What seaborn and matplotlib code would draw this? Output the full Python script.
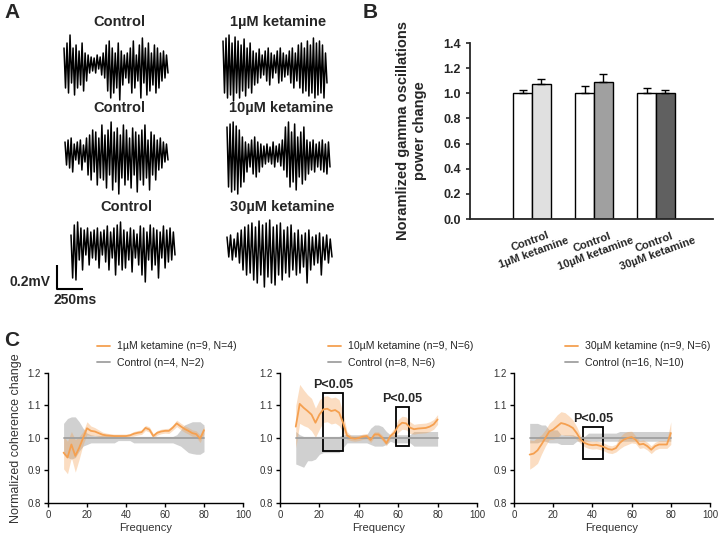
import numpy as np
import pandas as pd
import seaborn as sns
import matplotlib.pyplot as plt
from matplotlib.lines import Line2D
from matplotlib.patches import Rectangle

sns.set_theme(style="ticks")
plt.rcParams['font.family'] = ['Liberation Sans', 'DejaVu Sans']

# ---------------- Panel A: example traces (alternating peak/trough, 0.2 mV = 24 units)
trace_ctl_1 = [15, -25, 20, -30, 28, -20, 15, -32, 18, -25, 12, -22, 20, -28, 10, -18, 8, -10, 6, -8,
               5, -10, 8, -6, 6, -12, 10, -15, 18, -28, 22, -35, 15, -30, 10, -25, 20, -37, 12, -22,
               8, -15, 10, -20, 15, -30, 22, -25, 8, -18, 18, -35, 25, -20, 15, -32, 20, -28, 10, -22,
               18, -30, 15, -25, 10, -18, 12, -15, 8, -10]
trace_ket_1 = [22, -30, 25, -35, 28, -32, 20, -38, 26, -30, 22, -35, 18, -28, 24, -33, 15, -25, 20, -30,
               12, -22, 10, -20, 14, -15, 8, -12, 12, -18, 15, -22, 10, -15, 8, -10, 12, -20, 15, -18,
               10, -14, 8, -12, 12, -20, 15, -25, 10, -18, 18, -25, 20, -30, 15, -28, 22, -33, 18, -30,
               25, -35, 20, -32, 22, -30, 18, -35, 10, -20]
trace_ctl_10 = [8, -15, 10, -18, 12, -22, 6, -10, 8, -14, 10, -20, 5, -12, 12, -25, 15, -30, 20, -22,
                18, -35, 12, -28, 25, -30, 15, -38, 20, -25, 28, -40, 18, -32, 22, -44, 15, -28, 25, -35,
                20, -30, 12, -38, 22, -25, 18, -42, 15, -30, 20, -35, 25, -28, 10, -40, 18, -25, 15, -30,
                10, -20, 12, -18, 8, -12, 6, -10]
trace_ket_10 = [25, -35, 28, -40, 30, -38, 26, -42, 22, -35, 15, -30, 10, -20, 8, -15, 12, -22, 15, -25,
                10, -20, 8, -15, 6, -12, 8, -10, 5, -12, 10, -15, 6, -10, 8, -14, 12, -18, 25, -25,
                30, -35, 20, -30, 28, -38, 15, -25, 20, -32, 25, -28, 12, -22, 10, -18, 12, -20, 8, -15,
                10, -18, 12, -20, 8, -22, 10, -15]
trace_ctl_30 = [5, -38, 15, -40, 18, -20, 12, -30, 10, -15, 12, -25, 8, -18, 10, -20, 12, -28, 8, -15,
                10, -22, 14, -30, 8, -18, 12, -35, 15, -25, 18, -30, 10, -28, 8, -20, 12, -32, 10, -18,
                6, -25, 14, -35, 12, -42, 8, -20, 15, -30, 12, -25, 10, -38, 8, -18, 14, -28, 10, -22,
                12, -20, 8, -15]
trace_ket_30 = [8, -12, 10, -15, 6, -12, 12, -18, 15, -25, 18, -30, 20, -28, 22, -35, 18, -38, 24, -30,
                20, -42, 22, -32, 25, -38, 18, -40, 20, -30, 22, -35, 15, -28, 18, -32, 20, -25, 12, -30,
                15, -28, 10, -22, 12, -38, 15, -25, 8, -20, 10, -18, 12, -30, 8, -15, 10, -18, 6, -12]

trace_titles = ["Control", "1µM ketamine", "Control", "10µM ketamine", "Control", "30µM ketamine"]

# ---------------- Panel B: gamma power
bar_groups = ["Control\n1µM ketamine", "Control\n10µM ketamine", "Control\n30µM ketamine"]
power_ctl = [1.0, 1.0, 1.0]
power_ket = [1.07, 1.09, 1.0]
sem_ctl = [0.03, 0.06, 0.04]
sem_ket = [0.04, 0.06, 0.025]

# ---------------- Panel C: coherence
freq = list(range(8, 81, 2))
ctl_line = [1.0, 1.0, 1.0, 1.0, 1.0, 1.0, 1.0, 1.0, 1.0, 1.0, 1.0, 1.0, 1.0, 1.0, 1.0, 1.0, 1.0, 1.0, 1.0,
            1.0, 1.0, 1.0, 1.0, 1.0, 1.0, 1.0, 1.0, 1.0, 1.0, 1.0, 1.0, 1.0, 1.0, 1.0, 1.0, 1.0, 1.0]

c1_ket = [0.955, 0.94, 0.98, 0.945, 0.97, 1.0, 1.03, 1.022, 1.02, 1.015, 1.01, 1.008, 1.007, 1.006, 1.006,
          1.006, 1.006, 1.008, 1.013, 1.016, 1.018, 1.031, 1.026, 1.006, 1.016, 1.02, 1.022, 1.022, 1.032,
          1.045, 1.036, 1.028, 1.022, 1.015, 1.012, 0.998, 1.024]
c1_ket_sem = [0.05, 0.05, 0.04, 0.05, 0.035, 0.02, 0.02, 0.015, 0.012, 0.01, 0.008, 0.007, 0.006, 0.006,
              0.006, 0.006, 0.006, 0.006, 0.007, 0.007, 0.007, 0.008, 0.008, 0.007, 0.007, 0.007, 0.007,
              0.008, 0.008, 0.01, 0.01, 0.01, 0.01, 0.01, 0.01, 0.012, 0.012]
c1_ctl_lo = [0.95, 0.94, 0.935, 0.94, 0.96, 0.975, 0.98, 0.985, 0.985, 0.985, 0.985, 0.985, 0.985, 0.985,
             0.992, 0.992, 0.992, 0.992, 0.985, 0.985, 0.985, 0.985, 0.985, 0.985, 0.985, 0.985, 0.985,
             0.985, 0.985, 0.98, 0.975, 0.965, 0.955, 0.952, 0.95, 0.95, 0.958]
c1_ctl_hi = [1.045, 1.06, 1.065, 1.065, 1.05, 1.03, 1.015, 1.01, 1.008, 1.008, 1.008, 1.008, 1.008, 1.008,
             1.004, 1.004, 1.004, 1.004, 1.005, 1.005, 1.005, 1.005, 1.005, 1.005, 1.005, 1.005, 1.005,
             1.005, 1.005, 1.01, 1.025, 1.04, 1.045, 1.05, 1.05, 1.05, 1.04]

c2_ket = [1.035, 1.105, 1.093, 1.083, 1.072, 1.047, 1.072, 1.088, 1.09, 1.083, 1.086, 1.078, 1.047, 1.008,
          1.0, 0.998, 1.0, 1.004, 1.006, 0.994, 1.011, 1.011, 1.0, 0.984, 1.006, 1.016, 1.037, 1.047,
          1.045, 1.032, 1.027, 1.029, 1.03, 1.031, 1.035, 1.042, 1.057]
c2_ket_sem = [0.065, 0.06, 0.055, 0.05, 0.05, 0.045, 0.045, 0.04, 0.04, 0.04, 0.04, 0.04, 0.03, 0.012,
              0.008, 0.008, 0.008, 0.008, 0.008, 0.008, 0.008, 0.008, 0.008, 0.008, 0.008, 0.015, 0.02,
              0.02, 0.02, 0.018, 0.015, 0.015, 0.015, 0.015, 0.015, 0.015, 0.015]
c2_ctl_lo = [0.92, 0.915, 0.91, 0.93, 0.93, 0.935, 0.95, 0.955, 0.955, 0.955, 0.955, 0.955, 0.97, 0.985,
             0.985, 0.985, 0.985, 0.985, 0.985, 0.98, 0.975, 0.975, 0.975, 0.98, 0.99, 0.985, 0.985,
             0.985, 0.985, 0.985, 0.975, 0.975, 0.975, 0.975, 0.975, 0.975, 0.975]
c2_ctl_hi = [1.02, 1.01, 1.005, 1.005, 1.005, 1.005, 1.005, 1.005, 1.005, 1.005, 1.005, 1.005, 1.01, 1.01,
             1.01, 1.01, 1.01, 1.01, 1.01, 1.03, 1.04, 1.04, 1.035, 1.02, 1.01, 1.01, 1.01, 1.01, 1.01,
             1.01, 1.02, 1.02, 1.02, 1.02, 1.02, 1.02, 1.02]

c3_ket = [0.949, 0.952, 0.962, 0.98, 1.0, 1.02, 1.026, 1.036, 1.046, 1.043, 1.038, 1.031, 1.015, 0.995,
          0.985, 0.98, 0.978, 0.979, 0.976, 0.972, 0.966, 0.964, 0.969, 0.985, 0.995, 1.0, 1.003, 0.995,
          0.98, 0.982, 0.975, 0.964, 0.975, 0.98, 0.98, 0.98, 1.015]
c3_ket_sem = [0.045, 0.04, 0.04, 0.03, 0.025, 0.025, 0.03, 0.035, 0.035, 0.035, 0.03, 0.025, 0.02, 0.012,
              0.012, 0.012, 0.012, 0.012, 0.012, 0.012, 0.012, 0.012, 0.012, 0.018, 0.02, 0.02, 0.018,
              0.012, 0.012, 0.012, 0.012, 0.012, 0.012, 0.012, 0.012, 0.012, 0.035]
c3_ctl_lo = [0.985, 0.985, 0.985, 0.99, 0.99, 0.985, 0.985, 0.985, 0.98, 0.98, 0.98, 0.98, 0.99, 0.99,
             0.99, 0.99, 0.99, 0.99, 0.99, 0.99, 0.99, 0.99, 0.99, 0.99, 0.99, 0.99, 0.99, 0.99, 0.99,
             0.99, 0.99, 0.99, 0.99, 0.99, 0.99, 0.99, 0.99]
c3_ctl_hi = [1.045, 1.045, 1.045, 1.04, 1.04, 1.025, 1.025, 1.025, 1.01, 1.01, 1.01, 1.01, 1.005, 1.005,
             1.005, 1.015, 1.015, 1.015, 1.015, 1.015, 1.015, 1.015, 1.015, 1.02, 1.02, 1.02, 1.02, 1.02,
             1.02, 1.02, 1.02, 1.02, 1.02, 1.02, 1.02, 1.02, 1.02]

c_ket_labels = ["1µM ketamine (n=9, N=4)", "10µM ketamine (n=9, N=6)", "30µM ketamine (n=9, N=6)"]
c_ctl_labels = ["Control (n=4, N=2)", "Control (n=8, N=6)", "Control (n=16, N=10)"]

ORANGE = "#f5a050"
GREY_LINE = "#a0a0a0"
GREY_BAND = "#c8c8c8"

fig = plt.figure(figsize=(7.21, 5.35), dpi=100)

# ---- panel A: one pixel-space axes for the traces
axA = fig.add_axes([0, 0, 1, 1])
axA.set_xlim(0, 721)
axA.set_ylim(535, 0)
axA.axis("off")

traces = [trace_ctl_1, trace_ket_1, trace_ctl_10, trace_ket_10, trace_ctl_30, trace_ket_30]
# (x start, x end, baseline, title y)
spots = [(64, 168, 63, 22), (223, 327, 63, 22),
         (65, 168, 150, 108), (227, 330, 152, 108),
         (71, 175, 240, 207), (227, 332, 245, 207)]
for tr, (x0, x1, base, ty), title in zip(traces, spots, trace_titles):
    xs = np.linspace(x0, x1, len(tr))
    ys = base - np.array(tr)
    sns.lineplot(x=xs, y=ys, ax=axA, color="black", lw=1.1, estimator=None, sort=False)
    axA.text((x0 + x1) / 2 + 3, ty, title, ha="center", va="center", fontsize=10.5, fontweight="bold")

# scale bar
axA.plot([57, 57, 83], [265, 289, 289], color="black", lw=1.5, solid_capstyle="butt")
axA.text(50, 282, "0.2mV", ha="right", va="center", fontsize=10, fontweight="bold")
axA.text(75, 300, "250ms", ha="center", va="center", fontsize=10, fontweight="bold")
axA.text(4, 12, "A", ha="left", va="center", fontsize=15, fontweight="bold")
axA.text(363, 12, "B", ha="left", va="center", fontsize=15, fontweight="bold")
axA.text(4, 340, "C", ha="left", va="center", fontsize=15, fontweight="bold")

# ---- panel B
df_b = pd.DataFrame({
    "group": bar_groups * 2,
    "cond": ["Control"] * 3 + ["Ketamine"] * 3,
    "power": power_ctl + power_ket,
})
axB = fig.add_axes([470 / 721, 1 - 219 / 535, 243 / 721, 176 / 535])
sns.barplot(data=df_b, x="group", y="power", hue="cond", width=0.6, gap=0, ax=axB,
            errorbar=None, legend=False, palette=["white", "white"],
            edgecolor="black", linewidth=1)
bar_fill = ["white", "#e0e0e0", "white", "#a0a0a0", "white", "#606060"]
bar_err = [sem_ctl[0], sem_ket[0], sem_ctl[1], sem_ket[1], sem_ctl[2], sem_ket[2]]
bars = sorted(axB.patches, key=lambda p: p.get_x())
for p, col, e in zip(bars, bar_fill, bar_err):
    p.set_facecolor(col)
    axB.errorbar(p.get_x() + p.get_width() / 2, p.get_height(), yerr=[[0], [e]],
                 color="black", lw=1, capsize=3, capthick=1, zorder=1)
axB.set_xlim(-1.0, 2.92)
axB.set_ylim(0, 1.4)
axB.set_yticks(np.arange(0, 1.41, 0.2))
axB.set_yticklabels([f"{v:.1f}" for v in np.arange(0, 1.41, 0.2)], fontsize=9, fontweight="bold")
axB.set_xticks([0, 1, 2])
axB.set_xticklabels(bar_groups, fontsize=8, fontweight="bold", rotation=20, ha="center",
                    multialignment="center")
axB.tick_params(axis="x", length=0, pad=4)
axB.tick_params(axis="y", length=3, width=1.2)
axB.set_xlabel("")
axB.set_ylabel("Noramlized gamma oscillations\npower change", fontsize=10.5, fontweight="bold",
               labelpad=12)
for s in ["left", "bottom"]:
    axB.spines[s].set_linewidth(1.3)
sns.despine(ax=axB)

# ---- panel C
c_lefts = [48, 280, 514]
c_widths = [195, 197, 196]
c_data = [(c1_ket, c1_ket_sem, c1_ctl_lo, c1_ctl_hi),
          (c2_ket, c2_ket_sem, c2_ctl_lo, c2_ctl_hi),
          (c3_ket, c3_ket_sem, c3_ctl_lo, c3_ctl_hi)]
legend_x = [97, 328, 565]
p_boxes = [[], [(21.6, 32, 0.96, 1.14), (58.8, 65.6, 0.975, 1.095)], [(35.1, 45.2, 0.935, 1.035)]]

for i in range(3):
    ax = fig.add_axes([c_lefts[i] / 721, 1 - 503 / 535, c_widths[i] / 721, 130 / 535])
    ket, sem, lo, hi = c_data[i]
    ket = np.array(ket)
    sem = np.array(sem)
    ax.fill_between(freq, lo, hi, color=GREY_BAND, lw=0, alpha=0.85)
    ax.fill_between(freq, ket - sem, ket + sem, color=ORANGE, lw=0, alpha=0.35)
    sns.lineplot(x=freq, y=ctl_line, ax=ax, color=GREY_LINE, lw=1.3)
    sns.lineplot(x=freq, y=ket, ax=ax, color=ORANGE, lw=1.3)
    ax.set_xlim(0, 100)
    ax.set_ylim(0.8, 1.2)
    ax.set_xticks(range(0, 101, 20))
    ax.set_yticks([0.8, 0.9, 1.0, 1.1, 1.2])
    ax.set_yticklabels(["0.8", "0.9", "1.0", "1.1", "1.2"])
    ax.tick_params(labelsize=7, length=3, width=1, colors="black", labelcolor="#333333", pad=2)
    ax.set_xlabel("Frequency", fontsize=8, color="#333333", labelpad=2)
    if i == 0:
        ax.set_ylabel("Normalized coherence change", fontsize=9, color="#333333", labelpad=4)
    for s in ["left", "bottom"]:
        ax.spines[s].set_linewidth(1)
        ax.spines[s].set_color("black")
    sns.despine(ax=ax)

    for (x0, x1, y0, y1) in p_boxes[i]:
        ax.add_patch(Rectangle((x0, y0), x1 - x0, y1 - y0, fill=False, ec="black", lw=1.3))
        ax.text((x0 + x1) / 2, y1 + 0.006, "P<0.05", ha="center", va="bottom",
                fontsize=9, fontweight="bold")

    handles = [Line2D([0], [0], color=ORANGE, lw=1.3), Line2D([0], [0], color=GREY_LINE, lw=1.3)]
    lx = (legend_x[i] - c_lefts[i]) / c_widths[i]
    ax.legend(handles, [c_ket_labels[i], c_ctl_labels[i]], loc="lower left",
              bbox_to_anchor=(lx, 1.04), frameon=False, fontsize=7.6, handlelength=1.2,
              handletextpad=0.7, borderpad=0, borderaxespad=0, labelspacing=0.6)

fig.savefig("out.png", dpi=100)
